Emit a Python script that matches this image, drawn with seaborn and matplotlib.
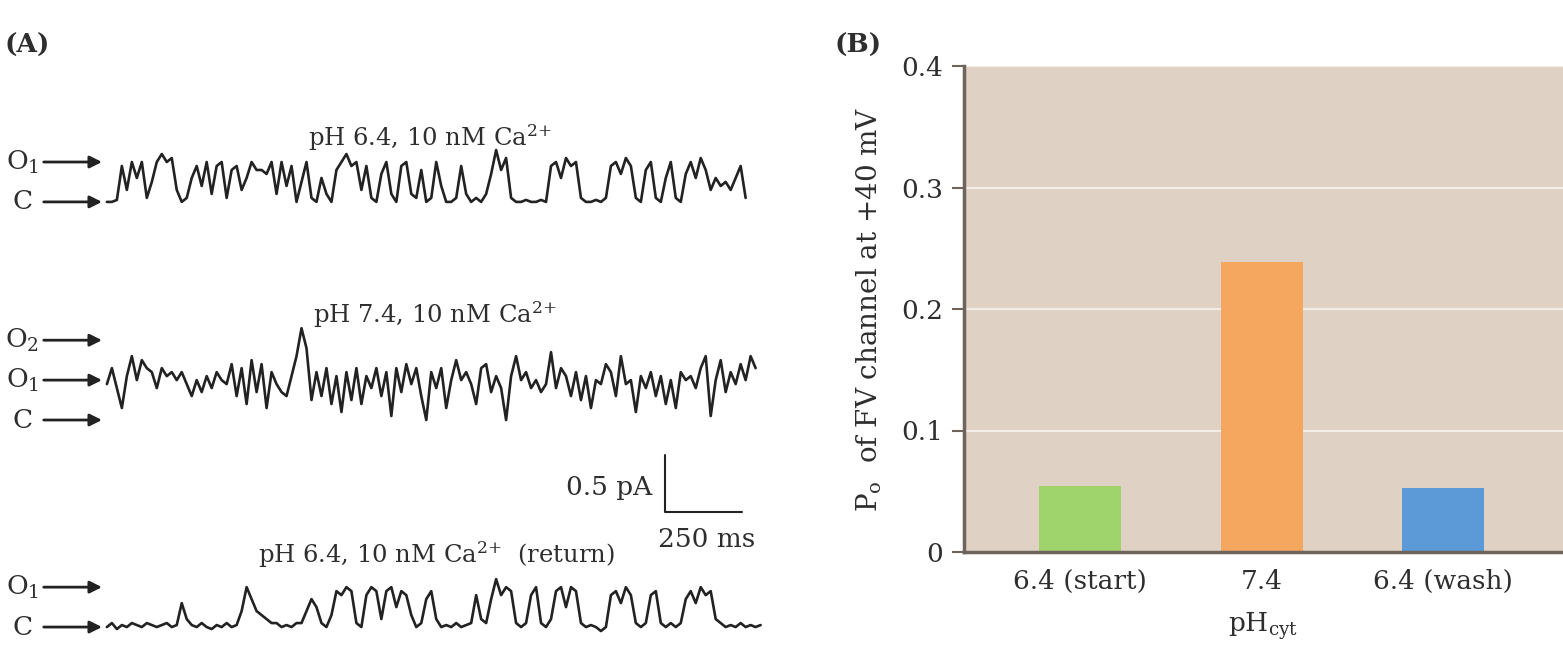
import numpy as np
import matplotlib
matplotlib.use("Agg")
import matplotlib.pyplot as plt
import seaborn as sns

# ---- data ----
# single-channel traces, in units of the single-channel opening (0 = closed, 1 = O1)
trace_ph64 = [0.0, 0.0, 0.05, 0.9, 0.3, 1.0, 0.6, 1.0, 0.1, 0.5,
              1.0, 1.2, 1.0, 1.1, 0.3, 0.0, 0.1, 0.6, 0.9, 0.4,
              1.0, 0.2, 0.9, 1.0, 0.1, 0.8, 0.9, 0.3, 0.6, 1.0,
              0.8, 0.8, 0.7, 1.0, 0.2, 1.0, 0.4, 0.9, 0.0, 0.5,
              1.0, 0.1, 0.0, 0.6, 0.2, 0.0, 0.8, 1.0, 1.2, 0.9,
              1.0, 0.3, 0.9, 0.1, 0.0, 0.7, 1.0, 0.2, 0.0, 0.9,
              1.0, 0.2, 0.1, 0.8, 0.0, 0.1, 1.0, 0.4, 0.0, 0.0,
              0.1, 0.9, 0.2, 0.0, 0.1, 0.0, 0.2, 0.7, 1.3, 0.8,
              1.1, 0.1, 0.0, 0.0, 0.05, 0.0, 0.0, 0.05, 0.0, 0.9,
              1.0, 0.6, 1.1, 0.9, 1.0, 0.1, 0.0, 0.0, 0.05, 0.0,
              0.1, 0.9, 1.0, 0.7, 1.1, 0.9, 0.1, 0.0, 0.8, 1.0,
              0.1, 0.0, 0.6, 1.0, 0.1, 0.0, 0.7, 1.0, 0.6, 1.1,
              0.8, 0.3, 0.6, 0.4, 0.5, 0.3, 0.6, 0.9, 0.1]
trace_ph74 = [0.9, 1.3, 0.8, 0.3, 1.1, 1.6, 1.0, 1.5, 1.3, 1.2,
              0.8, 1.3, 1.1, 1.2, 1.0, 1.2, 0.9, 0.6, 1.0, 0.7,
              1.1, 0.8, 1.2, 1.0, 0.9, 1.4, 0.6, 1.3, 0.4, 1.5,
              0.7, 1.4, 0.3, 1.2, 0.9, 0.7, 0.6, 1.1, 1.6, 2.3,
              1.8, 0.5, 1.2, 0.6, 1.3, 0.4, 1.1, 0.2, 1.2, 0.5,
              1.3, 0.4, 1.1, 0.8, 1.3, 0.6, 1.2, 0.1, 1.3, 0.7,
              1.4, 0.9, 1.3, 0.6, 0.0, 1.2, 0.8, 1.3, 0.3, 1.0,
              1.5, 1.0, 1.2, 0.9, 0.4, 1.3, 1.4, 0.7, 1.1, 0.8,
              0.0, 1.1, 1.6, 1.0, 1.2, 0.8, 1.0, 0.7, 0.9, 1.7,
              0.8, 1.3, 1.1, 0.6, 1.2, 0.5, 1.1, 0.3, 1.0, 0.9,
              1.4, 1.2, 0.6, 1.6, 0.9, 1.0, 0.2, 1.1, 0.8, 1.2,
              0.6, 1.1, 0.4, 1.0, 0.3, 1.2, 1.0, 1.1, 0.8, 1.3,
              1.6, 0.1, 1.0, 1.5, 0.7, 1.2, 0.9, 1.4, 1.0, 1.6,
              1.3]
trace_return = [0.0, 0.1, -0.05, 0.05, 0.0, 0.1, 0.05, 0.0, 0.1, 0.05,
                0.0, 0.05, 0.1, 0.0, 0.05, 0.6, 0.2, 0.05, 0.0, 0.1,
                0.0, -0.05, 0.05, 0.0, 0.1, 0.0, 0.05, 0.4, 1.0, 0.7,
                0.4, 0.3, 0.2, 0.1, 0.1, 0.0, 0.05, 0.0, 0.1, 0.1,
                0.4, 0.7, 0.5, 0.1, 0.0, 0.3, 0.9, 0.8, 1.0, 0.9,
                0.1, 0.0, 0.8, 1.0, 0.9, 0.2, 0.9, 1.0, 0.5, 0.9,
                0.8, 0.3, 0.0, 0.1, 0.7, 0.9, 0.2, 0.0, 0.05, 0.0,
                0.1, 0.0, 0.05, 0.1, 0.8, 0.2, 0.1, 0.7, 1.2, 0.8,
                1.0, 0.9, 0.1, 0.0, 0.1, 0.8, 1.0, 0.1, 0.0, 0.2,
                0.9, 1.0, 0.5, 1.0, 0.9, 0.1, 0.0, 0.05, 0.0, -0.1,
                0.0, 0.8, 0.9, 0.6, 1.0, 0.8, 0.1, 0.0, 0.1, 0.8,
                0.9, 0.1, 0.0, 0.1, 0.0, 0.1, 0.7, 0.9, 0.6, 1.0,
                0.8, 0.9, 0.2, 0.1, 0.0, 0.05, 0.0, 0.1, 0.0, 0.05,
                0.0, 0.05]
sample_ms = 16.2      # sampling interval of the traces
unit_pA = 0.35        # single channel current

# bar chart (B)
ph_labels = ["6.4 (start)", "7.4", "6.4 (wash)"]
p_open = [0.054, 0.239, 0.053]
bar_colors = ["#9fd36b", "#f5a75f", "#5b9ad6"]

# ---- style ----
sns.set_theme(style="white")
plt.rcParams["font.family"] = ["DejaVu Serif"]
plt.rcParams["mathtext.fontset"] = "dejavuserif"
ink = "#222222"
txt = "#2e2e2e"
fs = 19

fig = plt.figure(figsize=(15.63, 6.47), dpi=100)

# ---- panel A: current traces ----
axA = fig.add_axes([0, 0, 820 / 1563, 1])
axA.set_xlim(-347, 2315)
axA.set_ylim(0, 5.675)
axA.axis("off")

ca = r"Ca$^{2{+}}$"
traces = [
    (trace_ph64, 3.904, "pH 6.4, 10 nM " + ca, 4.465, ["C", "O$_1$"]),
    (trace_ph74, 1.991, "pH 7.4, 10 nM " + ca, 2.912, ["C", "O$_1$", "O$_2$"]),
    (trace_return, 0.175, "pH 6.4, 10 nM " + ca + "  (return)", 0.807, ["C", "O$_1$"]),
]
for vals, base, title, title_y, states in traces:
    t = np.arange(len(vals)) * sample_ms
    y = base + np.array(vals) * unit_pA
    sns.lineplot(x=t, y=y, ax=axA, color=ink, lw=1.9, sort=False)
    axA.text(t[-1] / 2 + 10, title_y, title, ha="center", va="center",
             fontsize=17.5, color=txt)
    for lvl, name in enumerate(states):
        ly = base + lvl * unit_pA
        axA.annotate("", xy=(-16, ly), xytext=(-205, ly),
                     arrowprops=dict(arrowstyle="-|>", color=ink, lw=2,
                                     mutation_scale=18, shrinkA=0, shrinkB=0))
        axA.text(-275, ly, name, ha="center", va="center", fontsize=fs, color=txt)

# scale bar 0.5 pA / 250 ms
axA.plot([1812, 1812, 2062], [1.184 + 0.5, 1.184, 1.184], color=ink, lw=1.5)
axA.text(1770, 1.40, "0.5 pA", ha="right", va="center", fontsize=fs, color=txt)
axA.text(1948, 0.94, "250 ms", ha="center", va="center", fontsize=fs, color=txt)

fig.text(0.003, 0.93, "(A)", fontsize=fs, fontweight="bold", color=txt, va="center")

# ---- panel B: open probability ----
axB = fig.add_axes([964 / 1563, 1 - 552 / 647, 1 - 964 / 1563, (552 - 66) / 647])
sns.barplot(x=ph_labels, y=p_open, hue=ph_labels, palette=bar_colors,
            width=0.45, ax=axB, legend=False, saturation=1, linewidth=0)
axB.set_facecolor("#e0d1c5")
axB.set_xlim(-0.64, 2.66)
axB.set_ylim(0, 0.4)
axB.set_yticks([0, 0.1, 0.2, 0.3, 0.4])
axB.set_yticklabels(["0", "0.1", "0.2", "0.3", "0.4"])
axB.yaxis.grid(True, color="#f4ece6", lw=1.5)
axB.set_axisbelow(True)
for side in ["top", "right"]:
    axB.spines[side].set_visible(False)
for side in ["left", "bottom"]:
    axB.spines[side].set_color("#6e645c")
    axB.spines[side].set_linewidth(2.5)
axB.tick_params(axis="y", length=9, width=1.5, color="#6e645c", direction="out",
                labelsize=fs, labelcolor=txt, left=True, pad=6)
axB.tick_params(axis="x", length=0, labelsize=fs, labelcolor=txt, pad=12)
axB.set_ylabel(r"P$_\mathregular{o}$  of FV channel at +40 mV", fontsize=20, color=txt, labelpad=12)
axB.set_xlabel(r"pH$_\mathregular{cyt}$", fontsize=fs, color=txt, labelpad=12)

fig.text(0.534, 0.93, "(B)", fontsize=fs, fontweight="bold", color=txt, va="center")

fig.savefig("out.png", dpi=100)
